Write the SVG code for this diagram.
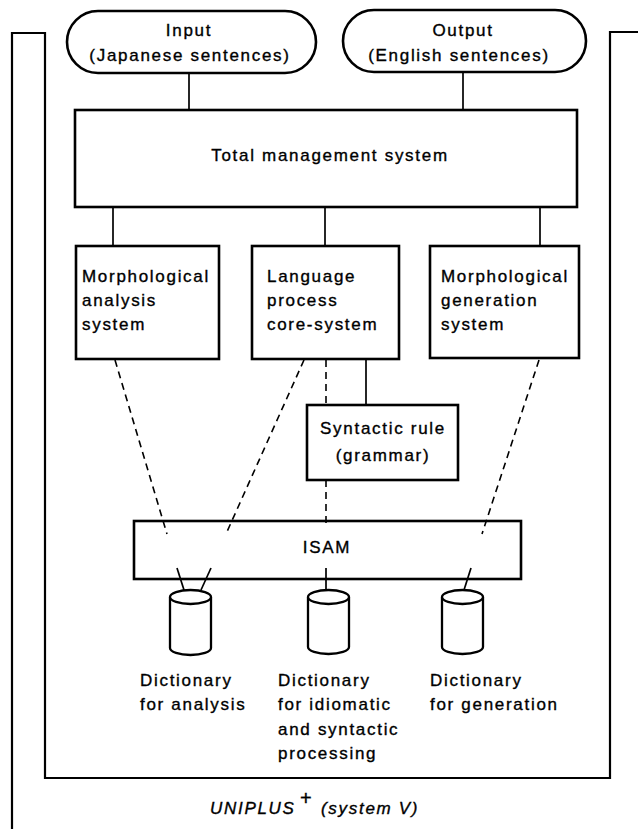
<svg xmlns="http://www.w3.org/2000/svg" width="638" height="829" viewBox="0 0 638 829">
<style>
  .box{fill:#fff;stroke:#000;stroke-width:2.6}
  .frame{fill:none;stroke:#000;stroke-width:2.2}
  .ln{fill:none;stroke:#000;stroke-width:1.7}
  .dash{fill:none;stroke:#000;stroke-width:1.6;stroke-dasharray:7 5}
  .cyl{fill:#fff;stroke:#000;stroke-width:2.3}
  text{font-family:"Liberation Sans",Arial,sans-serif;font-size:17px;letter-spacing:1.7px;fill:#000;stroke:#000;stroke-width:0.35}
  .mid{text-anchor:middle}
  .it{font-style:italic}
</style>
<rect width="638" height="829" fill="#fff"/>
<g id="frame">
  <polyline class="frame" points="12,829 12,33 45,33 45,778 610,778 610,32 638,32"/>
</g>
<g id="connectors">
  <line class="ln" x1="189" y1="73" x2="189" y2="110"/>
  <line class="ln" x1="463" y1="72" x2="463" y2="110"/>
  <line class="ln" x1="113" y1="207" x2="113" y2="246"/>
  <line class="ln" x1="325" y1="207" x2="325" y2="246"/>
  <line class="ln" x1="540" y1="207" x2="540" y2="246"/>
  <line class="ln" x1="366" y1="359" x2="366" y2="405"/>
  <line class="dash" x1="115" y1="360" x2="167" y2="534"/>
  <line class="dash" x1="304" y1="360" x2="226" y2="534"/>
  <line class="dash" x1="539" y1="360" x2="482" y2="534"/>
  <line class="dash" x1="326" y1="360" x2="326" y2="528"/>
  <line class="ln" x1="177" y1="568" x2="184" y2="590"/>
  <line class="ln" x1="211" y1="568" x2="201" y2="590"/>
  <line class="ln" x1="471" y1="568" x2="464" y2="590"/>
  <line class="ln" x1="326" y1="568" x2="326" y2="590"/>
</g>
<g id="input">
  <rect class="box" x="67" y="11" width="249" height="62" rx="31"/>
  <text class="mid" x="189" y="36">Input</text>
  <text class="mid" x="190" y="61">(Japanese sentences)</text>
</g>
<g id="output">
  <rect class="box" x="343" y="10" width="243" height="62" rx="31"/>
  <text class="mid" x="463" y="36">Output</text>
  <text class="mid" x="459" y="61">(English sentences)</text>
</g>
<g id="total">
  <rect class="box" x="75" y="110" width="502" height="97"/>
  <text class="mid" x="330" y="161">Total management system</text>
</g>
<g id="morph-analysis">
  <rect class="box" x="76" y="246" width="143" height="113"/>
  <text x="82" y="282">Morphological</text>
  <text x="82" y="306">analysis</text>
  <text x="82" y="330">system</text>
</g>
<g id="lang-core">
  <rect class="box" x="252" y="246" width="147" height="113"/>
  <text x="267" y="282">Language</text>
  <text x="267" y="306">process</text>
  <text x="267" y="330">core-system</text>
</g>
<g id="morph-generation">
  <rect class="box" x="430" y="246" width="149" height="112"/>
  <text x="441" y="282">Morphological</text>
  <text x="441" y="306">generation</text>
  <text x="441" y="330">system</text>
</g>
<g id="syntactic">
  <rect class="box" x="307" y="405" width="151" height="75"/>
  <text class="mid" x="383" y="434">Syntactic rule</text>
  <text class="mid" x="383" y="461">(grammar)</text>
</g>
<g id="isam">
  <rect class="box" x="134" y="521" width="387" height="58" style="fill:none"/>
  <text class="mid" x="327" y="553">ISAM</text>
</g>
<g id="dict-analysis">
  <path class="cyl" d="M170,597 L170,648 A20.5,7 0 0 0 211,648 L211,597"/>
  <ellipse class="cyl" cx="190.5" cy="597" rx="20.5" ry="7"/>
  <text x="140" y="686">Dictionary</text>
  <text x="140" y="710">for analysis</text>
</g>
<g id="dict-idiomatic">
  <path class="cyl" d="M308,597 L308,647 A20.5,7 0 0 0 349,647 L349,597"/>
  <ellipse class="cyl" cx="328.5" cy="597" rx="20.5" ry="7"/>
  <text x="278" y="686">Dictionary</text>
  <text x="278" y="710">for idiomatic</text>
  <text x="278" y="735">and syntactic</text>
  <text x="278" y="759">processing</text>
</g>
<g id="dict-generation">
  <path class="cyl" d="M442,597 L442,647 A20.5,7 0 0 0 483,647 L483,597"/>
  <ellipse class="cyl" cx="462.5" cy="597" rx="20.5" ry="7"/>
  <text x="430" y="686">Dictionary</text>
  <text x="430" y="710">for generation</text>
</g>
<g id="uniplus">
  <text class="it" x="210" y="814">UNIPLUS</text>
  <text x="300" y="805" style="font-size:20px">+</text>
  <text class="it" x="321" y="814">(system V)</text>
</g>
</svg>
